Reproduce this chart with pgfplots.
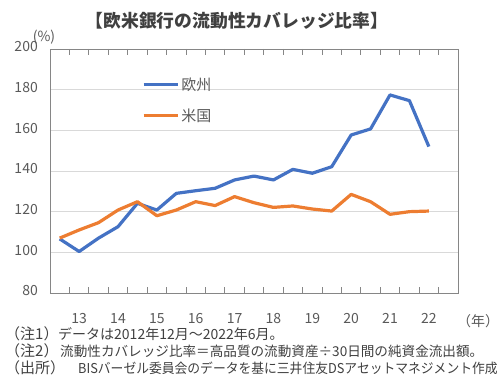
\documentclass[border=0pt]{standalone}
\usepackage{fontspec}
\setmainfont{Noto Sans CJK JP}
\usepackage{graphicx}
\usepackage{pgfplots}
\pgfplotsset{compat=1.18}
\definecolor{eu}{HTML}{4472C4}
\definecolor{us}{HTML}{ED7D31}
\definecolor{txt}{HTML}{595959}
\definecolor{dtxt}{HTML}{404040}
\definecolor{gridc}{HTML}{D9D9D9}
\definecolor{framec}{HTML}{868686}
\begin{document}
\begin{tikzpicture}[x=1pt,y=1pt]
\path[use as bounding box] (0,0) rectangle (500,385);
\begin{axis}[
  at={(50pt,92pt)}, anchor=south west,
  scale only axis, width=408pt, height=244pt,
  xmin=-0.5, xmax=20.5, ymin=80, ymax=200,
  ytick={80,100,...,200},
  xtick={1,3,5,7,9,11,13,15,17,19},
  xticklabels={13,14,15,16,17,18,19,20,21,22},
  minor xtick={0.5,1.5,...,19.5},
  major tick length=0pt,
  minor tick length=6pt,
  tick align=inside,
  minor tick style={draw=framec, line width=0.8pt},
  axis line style={draw=framec, line width=0.8pt},
  ymajorgrids, grid style={gridc, line width=0.8pt},
  /pgf/number format/assume math mode=true,
  ticklabel style={font=\fontsize{14}{16}\selectfont, text=txt},
  yticklabel style={anchor=mid east, inner sep=0pt, xshift=-12pt},
  xticklabel style={anchor=base, inner sep=0pt, yshift=-31pt},
  legend style={at={(axis cs:4.23,187)}, anchor=north west, draw=none, fill=none,
    inner sep=0pt, font=\fontsize{15}{17}\selectfont, text=txt,
    row sep=13pt},
  legend cell align=left,
  legend image code/.code={\draw[#1] (0pt,0pt) -- (34pt,0pt);},
  clip=false,
]
\addplot[eu, line width=3.2pt, line join=round] coordinates {
(0,106.6) (1,100.4) (2,107) (3,112.6) (4,124.1) (5,120.8) (6,129) (7,130.3)
(8,131.5) (9,135.6) (10,137.5) (11,135.6) (12,140.8) (13,138.9) (14,142.1)
(15,157.7) (16,160.7) (17,177.4) (18,174.6) (19,152)};
\addlegendentry{欧州}
\addplot[us, line width=3.2pt, line join=round] coordinates {
(0,107) (1,111) (2,114.6) (3,120.8) (4,124.9) (5,118) (6,120.8) (7,124.9)
(8,123) (9,127.4) (10,124.4) (11,122.1) (12,122.8) (13,121.3) (14,120.3)
(15,128.5) (16,124.9) (17,118.7) (18,120) (19,120.3)};
\addlegendentry{米国}
\end{axis}
\node[font=\fontsize{17.8}{20}\selectfont\bfseries, text=dtxt] at (237,364) {【欧米銀行の流動性カバレッジ比率】};
\node[font=\fontsize{14}{16}\selectfont, text=txt] at (44,348) {(\%)};
\node[font=\fontsize{14}{16}\selectfont, text=txt] at (478,64) {（年）};
\begin{scope}[every node/.style={text=dtxt, anchor=base west, inner sep=0pt}]
\node[font=\fontsize{15}{16}\selectfont] at (5,45) {（注1）};
\node[font=\fontsize{15}{16}\selectfont] at (5,28) {（注2）};
\node[font=\fontsize{15}{16}\selectfont] at (5,11) {（出所）};
\node[font=\fontsize{14}{16}\selectfont] at (58,45) {データは2012年12月～2022年6月。};
\node[font=\fontsize{13.6}{16}\selectfont] at (60,28) {流動性カバレッジ比率＝高品質の流動資産÷30日間の純資金流出額。};
\node[font=\fontsize{13.6}{16}\selectfont] at (78,11) {\scalebox{0.94}[1]{BISバーゼル委員会のデータを基に三井住友DSアセットマネジメント作成}};
\end{scope}
\end{tikzpicture}
\end{document}
